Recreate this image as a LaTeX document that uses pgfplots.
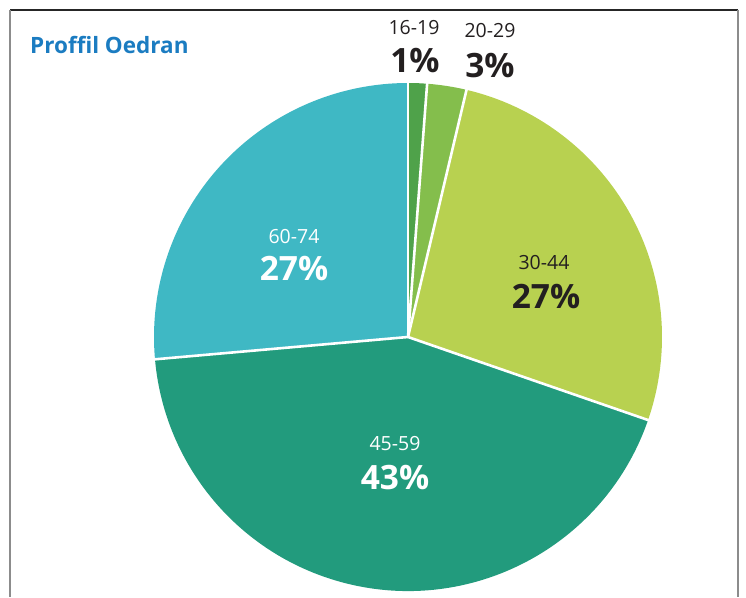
\documentclass[border=0pt]{standalone}
\usepackage{pgfplots}
\usepackage{pgfplotstable}
\pgfplotsset{compat=1.18}
\usepackage{fontspec}
\setmainfont{Open Sans}
\definecolor{cA}{HTML}{4FA24A}
\definecolor{cB}{HTML}{84BE4C}
\definecolor{cC}{HTML}{B8D150}
\definecolor{cD}{HTML}{229B7D}
\definecolor{cE}{HTML}{3FB8C4}
\definecolor{ttl}{HTML}{1B7CC1}
\definecolor{dk}{HTML}{231F20}
\pgfplotstableread{
label value
16-19 1.2
20-29 2.5
30-44 26.6
45-59 43.3
60-74 26.4
}\piedata
\begin{document}
\begin{tikzpicture}
\pgfplotstablegetelem{0}{value}\of\piedata \let\va\pgfplotsretval
\pgfplotstablegetelem{1}{value}\of\piedata \let\vb\pgfplotsretval
\pgfplotstablegetelem{2}{value}\of\piedata \let\vc\pgfplotsretval
\pgfplotstablegetelem{3}{value}\of\piedata \let\vd\pgfplotsretval
\pgfplotstablegetelem{4}{value}\of\piedata \let\ve\pgfplotsretval
\pgfmathsetmacro{\aA}{90}
\pgfmathsetmacro{\aB}{90-3.6*\va}
\pgfmathsetmacro{\aC}{\aB-3.6*\vb}
\pgfmathsetmacro{\aD}{\aC-3.6*\vc}
\pgfmathsetmacro{\aE}{\aD-3.6*\vd}
\pgfmathsetmacro{\aF}{\aE-3.6*\ve}
\begin{axis}[hide axis, scale only axis, width=746pt, height=597pt,
  xmin=0, xmax=746, ymin=0, ymax=597, clip=false]
\fill[cA] (axis cs:408,260) -- ++(\aA:254pt) arc[start angle=\aA, end angle=\aB, radius=254pt] -- cycle;
\fill[cB] (axis cs:408,260) -- ++(\aB:254pt) arc[start angle=\aB, end angle=\aC, radius=254pt] -- cycle;
\fill[cC] (axis cs:408,260) -- ++(\aC:254pt) arc[start angle=\aC, end angle=\aD, radius=254pt] -- cycle;
\fill[cD] (axis cs:408,260) -- ++(\aD:254pt) arc[start angle=\aD, end angle=\aE, radius=254pt] -- cycle;
\fill[cE] (axis cs:408,260) -- ++(\aE:254pt) arc[start angle=\aE, end angle=\aF, radius=254pt] -- cycle;
\draw[white, line width=2.6pt] (axis cs:408,260) -- ++(\aA:256pt);
\draw[white, line width=2.6pt] (axis cs:408,260) -- ++(\aB:256pt);
\draw[white, line width=2.6pt] (axis cs:408,260) -- ++(\aC:256pt);
\draw[white, line width=2.6pt] (axis cs:408,260) -- ++(\aD:256pt);
\draw[white, line width=2.6pt] (axis cs:408,260) -- ++(\aE:256pt);
% frame
\draw[color=black!85, line width=1.3pt] (axis cs:10,587) -- (axis cs:738,587);
\draw[color=black!45, line width=2pt] (axis cs:10,587) -- (axis cs:10,0);
\draw[color=black!45, line width=2pt] (axis cs:738,587) -- (axis cs:738,0);
% title
\node[anchor=west, text=ttl, font=\fontsize{22.5}{26}\selectfont\bfseries, inner sep=0pt] at (axis cs:30,552) {Proffil Oedran};
% labels
\node[text=dk, font=\fontsize{19.5}{22}\selectfont] at (axis cs:414,569) {16-19};
\node[text=dk, font=\fontsize{33.5}{36}\selectfont\bfseries] at (axis cs:415,536) {1\%};
\node[text=dk, font=\fontsize{19.5}{22}\selectfont] at (axis cs:490,566) {20-29};
\node[text=dk, font=\fontsize{33.5}{36}\selectfont\bfseries] at (axis cs:490,531) {3\%};
\node[text=dk, font=\fontsize{19.5}{22}\selectfont] at (axis cs:544,334) {30-44};
\node[text=dk, font=\fontsize{33.5}{36}\selectfont\bfseries] at (axis cs:546,300) {27\%};
\node[text=white, font=\fontsize{19.5}{22}\selectfont] at (axis cs:294,360) {60-74};
\node[text=white, font=\fontsize{33.5}{36}\selectfont\bfseries] at (axis cs:294,328) {27\%};
\node[text=white, font=\fontsize{19.5}{22}\selectfont] at (axis cs:395,153) {45-59};
\node[text=white, font=\fontsize{33.5}{36}\selectfont\bfseries] at (axis cs:395,119) {43\%};
\end{axis}
\pgfresetboundingbox
\path (current axis.south west) rectangle (current axis.north east);
\end{tikzpicture}
\end{document}
